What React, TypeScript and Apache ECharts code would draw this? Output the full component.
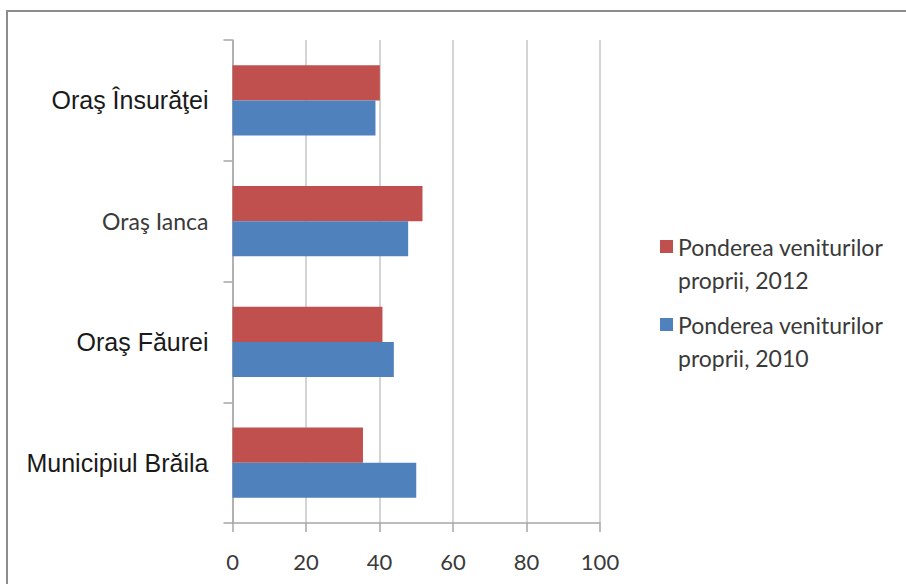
import React, { useEffect, useRef } from "react";
import * as echarts from "echarts";

const categories = ["Municipiul Brăila", "Oraş Făurei", "Oraş Ianca", "Oraş Însurăţei"];
const series2012 = [35.5, 40.8, 51.7, 40.1];
const series2010 = [50.0, 43.9, 47.8, 38.9];
const seriesNames = ["Ponderea veniturilor\nproprii, 2012", "Ponderea veniturilor\nproprii, 2010"];
const xTicks = { min: 0, max: 100, interval: 20 };

export default function App() {
  const ref = useRef<HTMLDivElement>(null);
  useEffect(() => {
    if (!ref.current) return;
    const chart = echarts.init(ref.current, null, { renderer: "svg" });
    chart.setOption({
      animation: false,
      backgroundColor: "#ffffff",
      graphic: [
        {
          type: "rect",
          shape: { x: 7, y: 11, width: 1000, height: 1000 },
          style: { fill: "none", stroke: "#8c8c8c", lineWidth: 2 },
          silent: true,
        },
      ],
      grid: { left: 232.5, right: 306, top: 40, bottom: 61, containLabel: false },
      legend: {
        orient: "vertical",
        left: 660,
        top: 197,
        padding: 0,
        itemWidth: 13,
        itemHeight: 13,
        itemGap: -21,
        icon: "rect",
        data: seriesNames,
        formatter: (name: string) => "\n" + name,
        textStyle: {
          fontFamily: "Lato",
          fontSize: 23,
          color: "#3a3a3a",
          lineHeight: 33,
        },
      },
      xAxis: {
        type: "value",
        min: xTicks.min,
        max: xTicks.max,
        interval: xTicks.interval,
        axisLine: { show: true, lineStyle: { color: "#a6a6a6", width: 1.5 } },
        axisTick: { show: true, length: 9, lineStyle: { color: "#a6a6a6", width: 1.5 } },
        splitLine: { show: true, lineStyle: { color: "#d4d4d4", width: 2 } },
        axisLabel: { margin: 27, fontFamily: "Lato", fontSize: 22, color: "#3a3a3a" },
      },
      yAxis: {
        type: "category",
        data: categories,
        axisLine: { show: true, lineStyle: { color: "#a6a6a6", width: 1.5 } },
        axisTick: { show: true, length: 9, interval: 0, lineStyle: { color: "#a6a6a6", width: 1.5 } },
        axisLabel: {
          margin: 24,
          formatter: (v: string) => (v === "Oraş Ianca" ? `{b|${v}}` : `{a|${v}}`),
          rich: {
            a: { fontFamily: "Liberation Sans, Arial", fontSize: 25, color: "#1a1a1a" },
            b: { fontFamily: "Lato", fontSize: 23, color: "#3a3a3a" },
          },
        },
      },
      series: [
        {
          name: seriesNames[0],
          type: "bar",
          data: series2012,
          barGap: "0%",
          barCategoryGap: "42%",
          itemStyle: { color: "#C0504D" },
        },
        {
          name: seriesNames[1],
          type: "bar",
          data: series2010,
          barGap: "0%",
          barCategoryGap: "42%",
          itemStyle: { color: "#4F81BD" },
        },
      ],
    });
    return () => chart.dispose();
  }, []);
  return (
    <div
      ref={ref}
      style={{ position: "absolute", left: 0, top: 0, width: 906, height: 584 }}
    />
  );
}
